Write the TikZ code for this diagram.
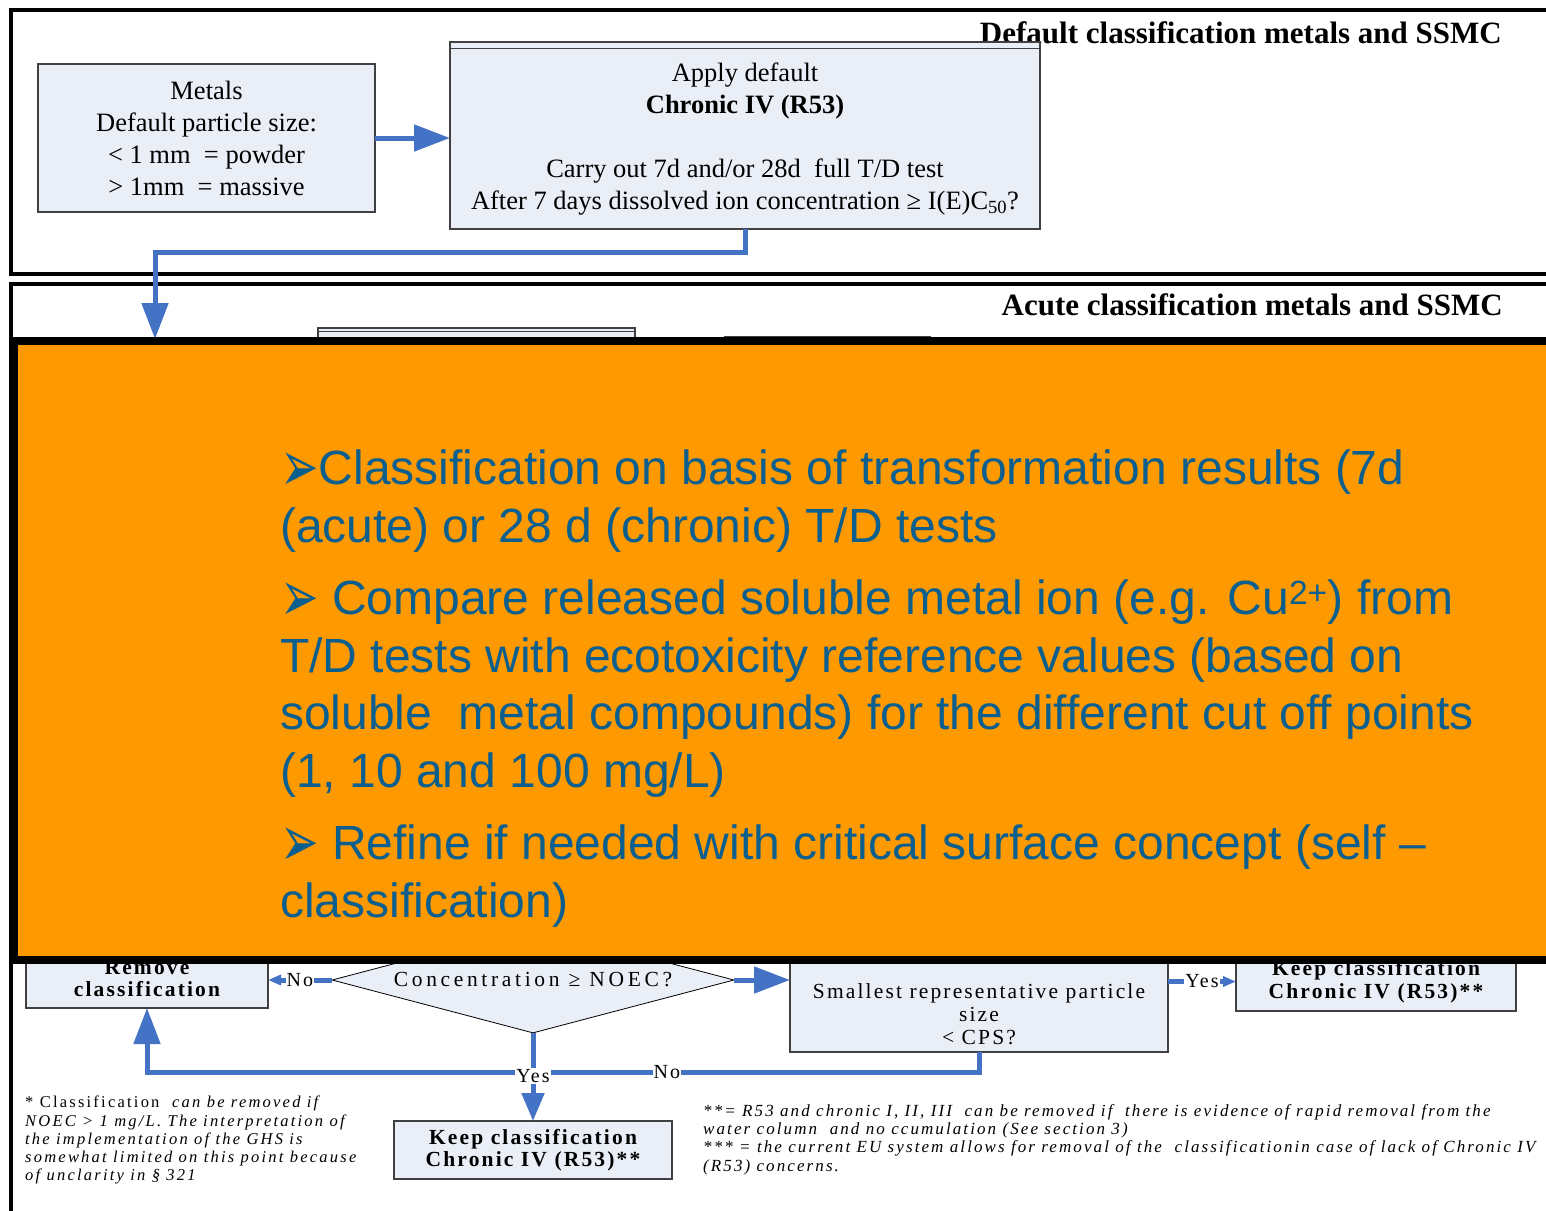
\documentclass[tikz,border=0pt]{standalone}
\usepackage{fontspec}
\usepackage{graphicx}
\setmainfont{Liberation Serif}
\newfontfamily\slidefont{Liberation Sans}
\newfontfamily\dingfont{DejaVu Sans}
\newfontfamily\widefont{Liberation Serif}[LetterSpace=10]
\newfontfamily\widerfont{Liberation Serif}[LetterSpace=17]
\newfontfamily\notefont{Liberation Serif}[LetterSpace=13.5]
\newfontfamily\notewidefont{Liberation Serif}[LetterSpace=12.3]
\usetikzlibrary{arrows.meta,shapes.geometric}
\definecolor{flowblue}{HTML}{4472C4}
\definecolor{boxfill}{HTML}{EAEFF7}
\definecolor{boxline}{HTML}{404040}
\definecolor{slideorange}{HTML}{FF9900}
\definecolor{slidetext}{HTML}{0B5F8E}
\newcommand{\slidebullet}{\raisebox{-7pt}{\scalebox{0.92}[1.45]{\dingfont\fontsize{50}{58}\selectfont ➢}}}
\begin{document}
\begin{tikzpicture}[x=1pt,y=-1pt,
  flowbox/.style={draw=boxline,line width=1.2pt,fill=boxfill,inner sep=0pt,outer sep=0pt},
  conn/.style={draw=flowblue,line width=5pt},
  bigarrow/.style={conn,-{Triangle[length=36pt,width=26pt]}},
  midarrow/.style={conn,-{Triangle[length=28pt,width=22pt]}},
  smallarrow/.style={conn,-{Triangle[length=13pt,width=10pt]}},
  panelframe/.style={draw=black,line width=4.5pt},
  paneltitle/.style={font=\fontsize{31}{36}\selectfont\bfseries,anchor=base east,inner sep=0pt},
  toptext/.style={font=\fontsize{26.5}{32}\selectfont,align=center},
  lowbold/.style={font=\widefont\fontsize{21.5}{22.5}\selectfont\bfseries,align=center},
  lowtext/.style={font=\widefont\fontsize{21.5}{23}\selectfont,align=center},
  flowlabel/.style={font=\widefont\fontsize{20}{22}\selectfont,fill=white,inner sep=1pt},
  notetext/.style={font=\notefont\fontsize{16.5}{18.2}\selectfont,align=left,anchor=north west,inner sep=0pt},
  notewide/.style={font=\notewidefont\fontsize{17}{18.3}\selectfont,align=left,anchor=north west,inner sep=0pt},
  slideline/.style={font=\slidefont\fontsize{48}{58}\selectfont,text=slidetext,anchor=base west,inner sep=0pt},
]
\useasboundingbox (0,0) rectangle (1546,1210);
\clip (0,0) rectangle (1546,1210);
\fill[white] (0,0) rectangle (1546,1210);

% panel frames
\draw[panelframe] (11,10) rectangle (1580,274);
\draw[panelframe] (11,284) rectangle (1580,1260);
\node[paneltitle] (title1) at (1502,43) {Default classification metals and SSMC};
\node[paneltitle] (title2) at (1503,315) {Acute classification metals and SSMC};

% default classification
\node[flowbox,toptext,minimum width=337pt,minimum height=148pt] (metals) at (206.5,138)
  {Metals\\Default particle size:\\< 1 mm\ \ = powder\\> 1mm\ \ = massive};
\node[flowbox,minimum width=590pt,minimum height=187pt] (apply) at (745,135.5) {};
\draw[boxline,line width=1pt] (apply.north west) ++(0,6) -- ++(590,0);
\node[toptext] (applytxt) at (745,139)
  {Apply default\\\textbf{Chronic IV (R53)}\\[32pt]Carry out 7d and/or 28d\ \ full T/D test\\After 7 days dissolved ion concentration ≥ I(E)C\textsubscript{50}?};
\draw[bigarrow] (metals.east) -- (metals.east -| apply.west);
\coordinate (bend) at (155,252);
\coordinate (acutein) at (155,339);
\draw[bigarrow] (apply.south) |- (bend) -- (acutein);

% boxes of the acute part lying under the slide
\node[flowbox,minimum width=317pt,minimum height=40pt] (peekA) at (476.5,348) {};
\draw[boxline,line width=1pt] (peekA.north west) ++(0,3) -- ++(317,0);
\node[flowbox,minimum width=205pt,minimum height=40pt] (peekB) at (827.5,357) {};

% lower flow
\node[flowbox,lowbold,minimum width=242pt,minimum height=59pt] (remove) at (147,978.5) {Remove\\classification};
\node[flowbox,lowbold,minimum width=280pt,minimum height=59pt] (keepR) at (1376,981.5) {Keep classification\\Chronic IV (R53)**};
\node[flowbox,minimum width=378pt,minimum height=90pt] (small) at (979,1007) {};
\node[lowtext] (smalltxt) at (979,1014) {Smallest representative particle\\size\\< CPS?};
\node[flowbox,lowbold,minimum width=278pt,minimum height=58pt] (keepB) at (533,1150) {Keep classification\\Chronic IV (R53)**};
\node[diamond,draw=black,line width=0.8pt,fill=boxfill,aspect=3.8,inner sep=0pt,
  minimum width=402pt,minimum height=106pt,font=\widerfont\fontsize{21.5}{23}\selectfont] (dia) at (533,980) {Concentration ≥ NOEC?};

\draw[smallarrow] (dia.west) -- node[flowlabel] (noA) {No} (dia.west -| remove.east);
\draw[bigarrow] (dia.east) -- (dia.east -| small.west);
\draw[smallarrow] (keepR.west -| small.east) -- node[flowlabel] (yesA) {Yes} (keepR.west);
\coordinate (junction) at (533,1072);
\draw[conn] (dia.south) -- (junction);
\draw[bigarrow] (junction) -| (remove.south);
\draw[conn] (small.south) |- node[flowlabel,pos=0.85] (noB) {No} (junction);
\node[flowlabel] (yesB) at (533,1076) {Yes};
\draw[midarrow] (yesB.south) -- (keepB.north);

% footnotes
\node[notetext] (noteL) at (25,1096)
  {* Classification\ \ \textit{can be removed if}\\
   \textit{NOEC > 1 mg/L. The interpretation of}\\
   \textit{the implementation of the GHS is}\\
   \textit{somewhat limited on this point because}\\
   \textit{of unclarity in § 321}};
\node[notewide] (noteR) at (703,1104)
  {\textit{**= R53 and chronic I, II, III\ \ can be removed if\ \ there is evidence of rapid removal from the}\\
   \textit{water column\ \ and no ccumulation (See section 3)}\\
   \textit{*** = the current EU system allows for removal of the\ \ classificationin case of lack of Chronic IV}\\
   \textit{(R53) concerns.}};

% slide panel on top
\node[draw=black,line width=8pt,fill=slideorange,minimum width=1546pt,minimum height=619pt,
  inner sep=0pt,outer sep=0pt] (slide) at (787,650.5) {};
\node[slideline] (s1) at (280,484) {\slidebullet Classification on basis of transformation results (7d};
\node[slideline] (s2) at (280,542) {(acute) or 28 d (chronic) T/D tests};
\node[slideline] (s3) at (280,614) {\slidebullet\ Compare released soluble metal ion (e.g. Cu\textsuperscript{2+}) from};
\node[slideline] (s4) at (280,672) {T/D tests with ecotoxicity reference values (based on};
\node[slideline] (s5) at (280,729) {soluble\ \ metal compounds) for the different cut off points};
\node[slideline] (s6) at (280,787) {(1, 10 and 100 mg/L)};
\node[slideline] (s7) at (280,859) {\slidebullet\ Refine if needed with critical surface concept (self –};
\node[slideline] (s8) at (280,917) {classification)};
\end{tikzpicture}
\end{document}
